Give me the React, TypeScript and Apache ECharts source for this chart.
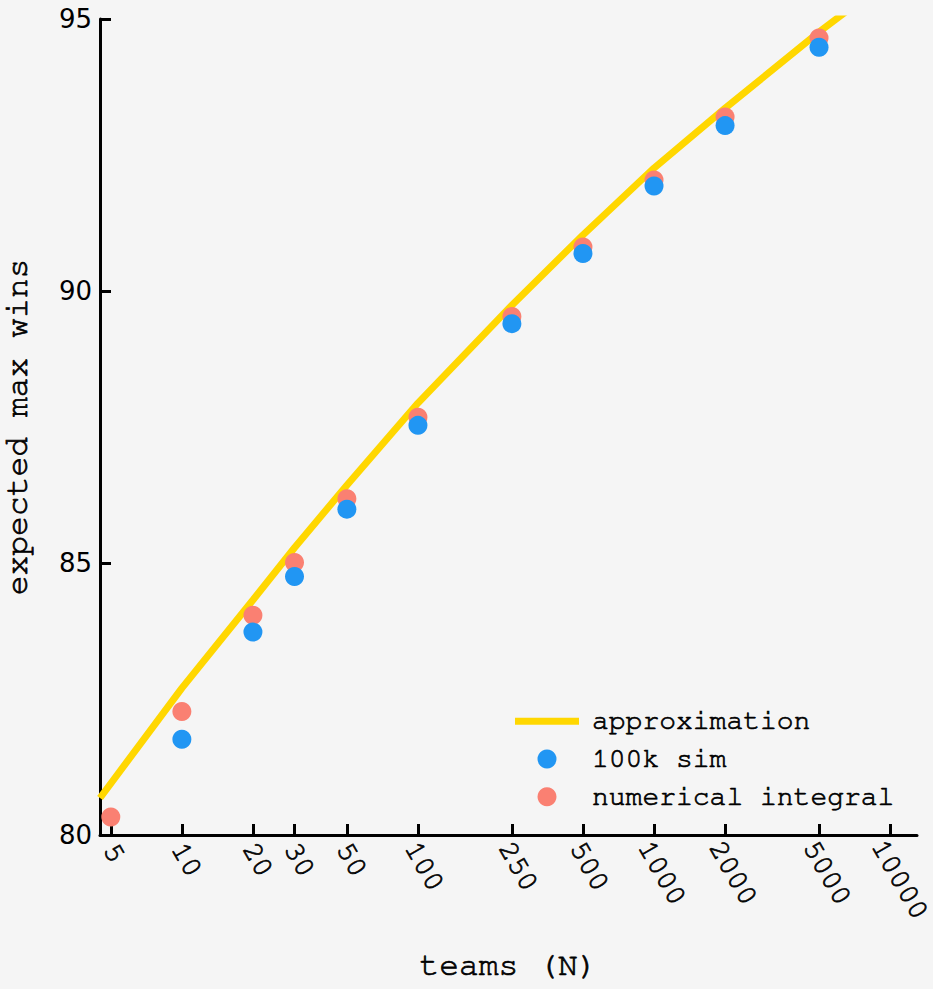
import React, { useEffect, useRef } from "react";
import * as echarts from "echarts";

// Data
const teams = [5, 10, 20, 30, 50, 100, 250, 500, 1000, 2000, 5000];
const integralWins = [80.33, 82.27, 84.04, 85.01, 86.18, 87.68, 89.53, 90.81, 92.04, 93.2, 94.65];
const simTeams = [10, 20, 30, 50, 100, 250, 500, 1000, 2000, 5000];
const simWins = [81.76, 83.73, 84.75, 85.99, 87.53, 89.4, 90.69, 91.93, 93.04, 94.48];
const approxTeams = [4.5, 10, 20, 30, 50, 100, 250, 500, 1000, 2000, 5000, 10000];
const approxWins = [80.68, 82.7, 84.32, 85.28, 86.43, 87.94, 89.74, 91.03, 92.26, 93.36, 94.76, 95.75];
const tickTeams = [5, 10, 20, 30, 50, 100, 250, 500, 1000, 2000, 5000, 10000];
const yTicks = [80, 85, 90, 95];
const xRange = [4.5, 13000];

const MONO = "'Nimbus Mono PS', 'Nimbus Mono L', 'FreeMono', 'Courier 10 Pitch', 'Liberation Mono', monospace";
const THICK = { textBorderColor: "#000", textBorderWidth: 0.7 };

// tick label layout (rotated, box centred under the tick like matplotlib)
const LBL_SIZE = 29;
const LBL_ROT = 60;
const LBL_MARGIN = -20;
const LBL_PAD = 4;
const LBL_DX = 2;

function buildRich() {
  const c = Math.cos((LBL_ROT * Math.PI) / 180);
  const s = Math.sin((LBL_ROT * Math.PI) / 180);
  const adv = 0.6 * LBL_SIZE;
  const h = LBL_SIZE;
  const Y = LBL_PAD - LBL_MARGIN;
  const rich: Record<string, any> = {};
  for (let n = 1; n <= 6; n++) {
    const L = n * adv;
    const X = LBL_DX - (L * c - h * s) / 2;
    const a = Math.max(0, c * X + s * Y);
    const b = Math.max(0, -s * X + c * Y);
    rich["n" + n] = {
      fontFamily: MONO,
      fontSize: LBL_SIZE,
      lineHeight: LBL_SIZE,
      color: "#000",
      padding: [b, 0, 0, a],
      ...THICK,
    };
  }
  return rich;
}

export default function App() {
  const ref = useRef<HTMLDivElement>(null);
  useEffect(() => {
    document.body.style.margin = "0";
    document.body.style.background = "#f5f5f5";
    const chart = echarts.init(ref.current!, null, { renderer: "svg" });
    const lg = (n: number) => Math.log10(n);
    const option = {
      animation: false,
      backgroundColor: "#f5f5f5",
      grid: { left: 100, right: 16, top: 19, bottom: 154, containLabel: false, outerBoundsMode: "none" },
      legend: {
        orient: "vertical",
        left: 510,
        top: 702,
        itemWidth: 64,
        itemHeight: 19,
        itemGap: 9,
        selectedMode: false,
        symbolKeepAspect: true,
        data: [
          { name: "approximation", icon: "path://M0,0H64V7H0Z" },
          { name: "100k sim", icon: "circle" },
          { name: "numerical integral", icon: "circle" },
        ],
        textStyle: {
          fontFamily: MONO,
          fontSize: 28,
          lineHeight: 28,
          color: "#000",
          padding: [0, 0, 0, 8],
          ...THICK,
        },
      },
      xAxis: {
        type: "value",
        min: lg(xRange[0]),
        max: lg(xRange[1]),
        name: "teams (N)",
        nameLocation: "middle",
        nameGap: 114,
        nameTextStyle: { fontFamily: MONO, fontSize: 33, color: "#000", ...THICK },
        axisLine: { show: true, onZero: false, lineStyle: { color: "#000", width: 3 } },
        axisTick: {
          show: true,
          inside: true,
          length: 11,
          lineStyle: { color: "#000", width: 3 },
          customValues: tickTeams.map(lg),
        },
        axisLabel: {
          customValues: tickTeams.map(lg),
          formatter: (v: number) => {
            const t = String(Math.round(Math.pow(10, v)));
            return "{n" + t.length + "|" + t + "}";
          },
          rotate: -LBL_ROT,
          align: "left",
          verticalAlign: "top",
          margin: LBL_MARGIN,
          fontFamily: MONO,
          fontSize: LBL_SIZE,
          color: "#000",
          rich: buildRich(),
        },
        splitLine: { show: false },
      },
      yAxis: {
        type: "value",
        min: yTicks[0],
        max: yTicks[yTicks.length - 1],
        interval: 5,
        name: "expected max wins",
        nameLocation: "middle",
        nameGap: 66,
        nameTextStyle: { fontFamily: MONO, fontSize: 33, color: "#000", ...THICK },
        axisLine: { show: true, onZero: false, lineStyle: { color: "#000", width: 3 } },
        axisTick: { show: true, inside: true, length: 11, lineStyle: { color: "#000", width: 3 } },
        axisLabel: {
          margin: 8,
          fontFamily: "'DejaVu Sans', sans-serif",
          fontSize: 26,
          color: "#000",
        },
        splitLine: { show: false },
      },
      series: [
        {
          type: "line",
          name: "approximation",
          data: approxTeams.map((n, i) => [lg(n), approxWins[i]]),
          symbol: "none",
          smooth: false,
          lineStyle: { color: "#FFD700", width: 7 },
          itemStyle: { color: "#FFD700" },
          z: 1,
        },
        {
          type: "scatter",
          name: "numerical integral",
          data: teams.map((n, i) => [lg(n), integralWins[i]]),
          symbolSize: 19,
          itemStyle: { color: "#FA8072", opacity: 1 },
          z: 2,
        },
        {
          type: "scatter",
          name: "100k sim",
          data: simTeams.map((n, i) => [lg(n), simWins[i]]),
          symbolSize: 19,
          itemStyle: { color: "#2196F3", opacity: 1 },
          z: 3,
        },
      ],
    };
    chart.setOption(option as any);
    return () => chart.dispose();
  }, []);
  return <div ref={ref} style={{ width: 933, height: 989 }} />;
}
